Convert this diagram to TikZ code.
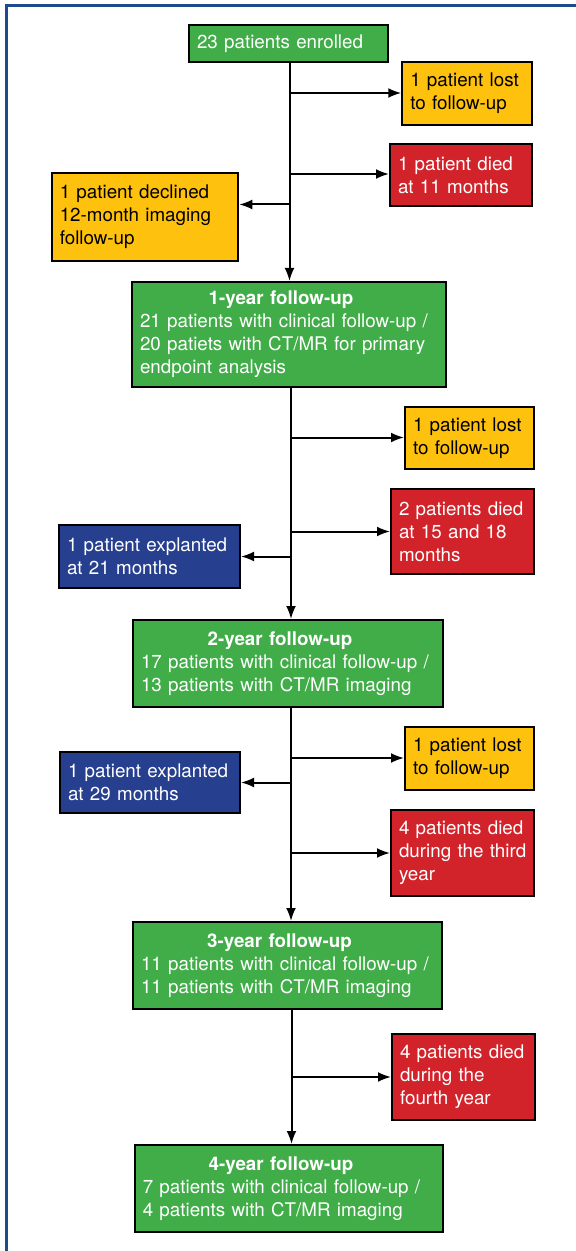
\documentclass[tikz,border=0pt]{standalone}
\usepackage{fontspec}
\setmainfont{TeX Gyre Heros}
\usetikzlibrary{arrows.meta}
\definecolor{stagegreen}{HTML}{40AD48}
\definecolor{lostyellow}{HTML}{FEC10E}
\definecolor{diedred}{HTML}{D2232B}
\definecolor{explblue}{HTML}{263F8E}
\definecolor{frameblue}{HTML}{1D4B8B}

\begin{document}
\begin{tikzpicture}[x=0.5pt, y=-0.5pt,
  box/.style={draw=black, line width=1pt, inner xsep=4pt, inner ysep=0pt, align=left,
    font=\fontsize{9.4}{11.5}\selectfont},
  stagebox/.style={box, fill=stagegreen, text=white},
  lostbox/.style={box, fill=lostyellow, text=black},
  diedbox/.style={box, fill=diedred, text=white},
  explbox/.style={box, fill=explblue, text=white},
  arr/.style={line width=1pt, -{Latex[length=6.5pt,width=5pt]}}]
\useasboundingbox (0,0) rectangle (576,1251);
\draw[frameblue, line width=1.5pt] (6,1260) -- (6,5.5) -- (590,5.5);

\node[stagebox, text width=91.5pt, minimum height=18.25pt] (enrolled) at (288.5,43.5) {23 patients enrolled};
\node[lostbox, text width=56.75pt, minimum height=31.5pt] (lost1) at (467,93.5) {1 patient lost\\to follow-up};
\node[diedbox, text width=63pt, minimum height=30.75pt] (died1) at (461,175) {1 patient died\\at 11 months};
\node[lostbox, text width=85.25pt, minimum height=44pt] (declined) at (145,217) {1 patient declined\\12-month imaging\\follow-up};
\node[stagebox, text width=149pt, minimum height=52.5pt] (year1) at (289,334.5)
  {\hfill\textbf{1-year follow-up}\hspace*{8pt}\hfill\null\\21 patients with clinical follow-up /\\20 patiets with CT/MR for primary\\endpoint analysis};

\node[lostbox, text width=56.5pt, minimum height=31pt] (lost2) at (469.5,438) {1 patient lost\\to follow-up};
\node[diedbox, text width=63.5pt, minimum height=42.5pt] (died2) at (462.5,531.5) {2 patients died\\at 15 and 18\\months};
\node[explbox, text width=82.5pt, minimum height=31.5pt] (expl1) at (149.5,556.5) {1 patient explanted\\at 21 months};
\node[stagebox, text width=147pt, minimum height=43.5pt] (year2) at (288,663.5)
  {\hfill\textbf{2-year follow-up}\hspace*{8pt}\hfill\null\\17 patients with clinical follow-up /\\13 patients with CT/MR imaging};

\node[lostbox, text width=56.5pt, minimum height=31.5pt] (lost3) at (469.5,758.5) {1 patient lost\\to follow-up};
\node[explbox, text width=82pt, minimum height=30.5pt] (expl2) at (150,782.5) {1 patient explanted\\at 29 months};
\node[diedbox, text width=63.5pt, minimum height=43pt] (died3) at (462.5,853) {4 patients died\\\mbox{during the third}\\year};
\node[stagebox, text width=146.5pt, minimum height=43.5pt] (year3) at (287.5,965.5)
  {\hfill\textbf{3-year follow-up}\hspace*{8pt}\hfill\null\\11 patients with clinical follow-up /\\11 patients with CT/MR imaging};

\node[diedbox, text width=63.5pt, minimum height=43pt] (died4) at (463.5,1077) {4 patients died\\during the\\fourth year};
\node[stagebox, text width=146.25pt, minimum height=43.5pt] (year4) at (289,1188.5)
  {\hfill\textbf{4-year follow-up}\hspace*{8pt}\hfill\null\\7 patients with clinical follow-up /\\4 patients with CT/MR imaging};

\coordinate (t1) at (289.5,93);
\coordinate (t2) at (289.5,174);
\coordinate (t3) at (289.5,204.5);
\draw[arr] (enrolled.south -| t1) -- (year1.north -| t1);
\draw[arr] (t1) -- (t1 -| lost1.west);
\draw[arr] (t2) -- (t2 -| died1.west);
\draw[arr] (t3) -- (t3 -| declined.east);

\coordinate (u1) at (291,437.5);
\coordinate (u2) at (291,531.5);
\coordinate (u3) at (291,556.5);
\draw[arr] (year1.south -| u1) -- (year2.north -| u1);
\draw[arr] (u1) -- (u1 -| lost2.west);
\draw[arr] (u2) -- (u2 -| died2.west);
\draw[arr] (u3) -- (u3 -| expl1.east);

\coordinate (v1) at (291,758);
\coordinate (v2) at (291,782.5);
\coordinate (v3) at (291,853);
\draw[arr] (year2.south -| v1) -- (year3.north -| v1);
\draw[arr] (v1) -- (v1 -| lost3.west);
\draw[arr] (v2) -- (v2 -| expl2.east);
\draw[arr] (v3) -- (v3 -| died3.west);

\coordinate (w1) at (291.5,1077);
\draw[arr] (year3.south -| w1) -- (year4.north -| w1);
\draw[arr] (w1) -- (w1 -| died4.west);
\end{tikzpicture}
\end{document}
